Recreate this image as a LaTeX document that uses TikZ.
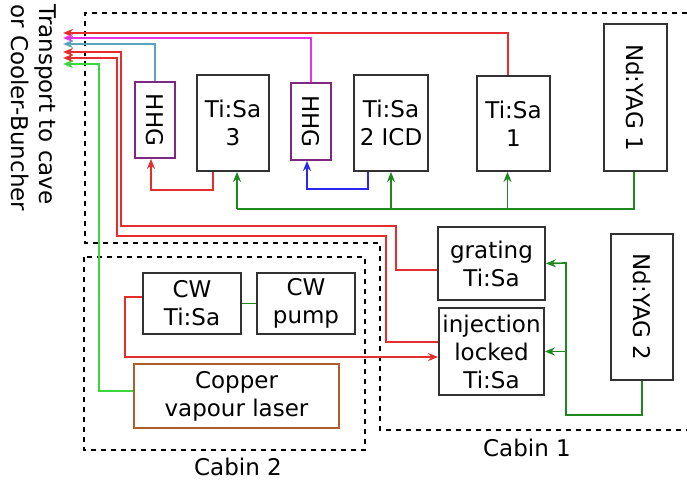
\documentclass[tikz,border=0pt]{standalone}
\usepackage{fontspec}
\setmainfont{DejaVu Sans}
\usetikzlibrary{arrows.meta}
\definecolor{boxK}{RGB}{50,50,50}
\definecolor{hhgP}{RGB}{128,40,128}
\definecolor{cvlB}{RGB}{175,95,45}
\definecolor{lasR}{RGB}{230,45,45}
\definecolor{lasM}{RGB}{230,50,230}
\definecolor{lasT}{RGB}{90,165,190}
\definecolor{lasB}{RGB}{40,40,240}
\definecolor{lasG}{RGB}{60,215,60}
\definecolor{pumpG}{RGB}{30,135,30}

\begin{document}
\begin{tikzpicture}[x=0.5pt,y=-0.5pt,font=\fontsize{11.5}{14}\selectfont,
  box/.style={draw=boxK,line width=0.9pt,inner sep=0pt,align=center},
  beam/.style={line width=0.85pt},
  arr/.style={-{Stealth[length=5pt,width=4pt]}},
  cabin/.style={dash pattern=on 2.6pt off 2.4pt,line width=0.7pt}]
\useasboundingbox (0,0) rectangle (687,482);
% cabins
\draw[cabin] (687,13) -- (85,13) -- (85,243) -- (380,243) -- (380,430) -- (687,430);
\draw[cabin] (84,257) rectangle (365,450);
\node (cab1) at (527,448) {Cabin 1};
\node (cab2) at (238,467) {Cabin 2};
\node[rotate=-90,anchor=north west,align=left,inner sep=0pt] (dest) at (57,4) {Transport to cave\\or Cooler-Buncher};
% lasers, cabin 1
\node[box,draw=hhgP,minimum width=20pt,minimum height=38pt] (hhgA) at (155,120) {\rotatebox{-90}{HHG}};
\node[box,minimum width=36pt,minimum height=48pt] (ts3) at (233,123) {Ti:Sa\\3};
\node[box,draw=hhgP,minimum width=20pt,minimum height=38.5pt] (hhgB) at (311,121.5) {\rotatebox{-90}{HHG}};
\node[box,minimum width=37pt,minimum height=48pt] (ts2) at (391,123) {Ti:Sa\\2 ICD};
\node[box,minimum width=36.5pt,minimum height=47.5pt] (ts1) at (513.5,123.5) {Ti:Sa\\1};
\node[box,minimum width=31.5pt,minimum height=73.5pt] (yag1) at (635.5,97.5) {\rotatebox{-90}{Nd:YAG 1}};
\node[box,minimum width=53.5pt,minimum height=36.5pt] (grat) at (491.5,263.5) {grating\\Ti:Sa};
\node[box,minimum width=52.5pt,minimum height=43.5pt] (inj) at (491.5,351.5) {injection\\locked\\Ti:Sa};
\node[box,minimum width=31pt,minimum height=73pt] (yag2) at (642,307) {\rotatebox{-90}{Nd:YAG 2}};
% lasers, cabin 2
\node[box,minimum width=49pt,minimum height=30.5pt] (cwts) at (192,303.5) {CW\\Ti:Sa};
\node[box,minimum width=49pt,minimum height=30.5pt] (cwpump) at (306,303.5) {CW\\pump};
\node[box,draw=cvlB,minimum width=102.5pt,minimum height=32pt] (cvl) at (236.5,396) {Copper\\vapour laser};
% beam exits
\coordinate (o1) at (63,33);
\coordinate (o2) at (63,38);
\coordinate (o3) at (63,44);
\coordinate (o4) at (63,52);
\coordinate (o5) at (63,58);
\coordinate (o6) at (63,64);
\draw[beam,lasR,arr] ([xshift=-2.75pt]ts1.north) |- (o1);
\draw[beam,lasM,arr] (hhgB.north) |- (o2);
\draw[beam,lasT,arr] (hhgA.north) |- (o3);
\draw[beam,lasR,arr] ([yshift=-3.25pt]grat.west) -| (396,226) -| (121,52) -- (o4);
\draw[beam,lasR,arr] ([yshift=4.75pt]inj.west) -| (386,236) -| (117,58) -- (o5);
\draw[beam,lasG,arr] ([yshift=2.5pt]cvl.west) -| (99,64) -- (o6);
% seeding / HHG drive
\draw[beam,lasR,arr] ([xshift=-10pt]ts3.south) -- ++(0,18) -| ([xshift=-2pt]hhgA.south);
\draw[beam,lasB,arr] ([xshift=-11.5pt]ts2.south) -- ++(0,17) -| ([xshift=-2pt]hhgB.south);
\draw[beam,lasR,arr] ([yshift=3.25pt]cwts.west) -| (125,357) -- ([yshift=-2.75pt]inj.west);
\draw[beam,pumpG] (cwts.east) -- (cwpump.west);
% pump lines
\coordinate (gbus) at (237,209);
\draw[beam,pumpG] ([xshift=-0.75pt]yag1.south) |- (gbus);
\draw[beam,pumpG,arr] (gbus) -- ([xshift=2pt]ts3.south);
\draw[beam,pumpG,arr] (ts2.south |- gbus) -- (ts2.south);
\draw[beam,pumpG,arr] ([xshift=-3pt]ts1.south |- gbus) -- ([xshift=-3pt]ts1.south);
\coordinate (gsplit) at (566,263);
\draw[beam,pumpG,arr] (yag2.south) -- ++(0,34) -| (gsplit) -- (grat.east);
\draw[beam,pumpG,arr] (gsplit |- inj.east) -- (inj.east);
\end{tikzpicture}
\end{document}
